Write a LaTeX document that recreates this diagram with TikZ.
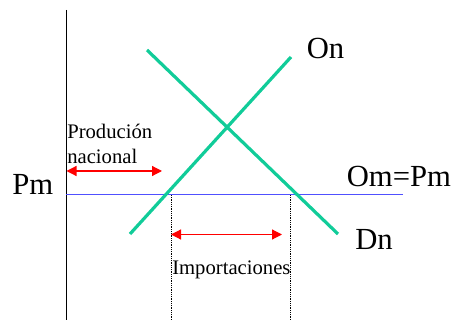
\documentclass[tikz,border=0pt]{standalone}
\usepackage{fontspec}
\setmainfont{Liberation Serif}
\usetikzlibrary{arrows.meta}
\definecolor{teal}{RGB}{17,204,153}
\definecolor{lineblue}{RGB}{80,80,255}
\definecolor{red}{RGB}{255,0,0}

\begin{document}
\begin{tikzpicture}[x=0.75pt,y=0.75pt,yscale=-1,xscale=1,
  curve/.style={color=teal,line width=2.4pt},
  bigtext/.style={anchor=base west,inner sep=0pt,font=\fontsize{23}{27}\selectfont},
  smalltext/.style={anchor=base west,inner sep=0pt,font=\fontsize{15.5}{18}\selectfont},
  span/.style={color=red,line width=0.9pt,{Triangle[length=7.5pt,width=7.5pt]}-{Triangle[length=7.5pt,width=7.5pt]}},
  guide/.style={densely dotted,line width=0.35pt}]
\useasboundingbox (0,0) rectangle (458,320);

%Axis
\coordinate (axtop) at (66,10);
\coordinate (axbot) at (66,320);
\draw [line width=0.6pt] (axtop) -- (axbot);

%World price line
\coordinate (pmleft) at (66,195);
\coordinate (pmright) at (403,195);
\draw [color=lineblue,line width=0.75pt] (pmleft) -- (pmright);

%Supply and demand
\coordinate (onlow) at (130,234);
\coordinate (onhigh) at (291,57);
\coordinate (dnhigh) at (147,50);
\coordinate (dnlow) at (338,234);
\draw [curve] (onlow) -- (onhigh);
\draw [curve] (dnhigh) -- (dnlow);

%Guides
\coordinate (qs) at (171,195);
\coordinate (qd) at (290,195);
\coordinate (qsbot) at (171,320);
\coordinate (qdbot) at (290,320);
\draw [guide] (qs) -- (qsbot);
\draw [guide] (qd) -- (qdbot);

%Spans
\coordinate (prodl) at (66.5,171);
\coordinate (prodr) at (162,171);
\draw [span] (prodl) -- (prodr);
\coordinate (impl) at (171,234.5);
\coordinate (impr) at (282,234.5);
\draw [span] (impl) -- (impr);

% Text Node
\node [bigtext] (pm) at (12,195) {Pm};
\node [bigtext] (on) at (306.5,59) {On};
\node [bigtext] (ompm) at (346.5,187) {Om=Pm};
\node [bigtext] (dn) at (355,250) {Dn};
\node [smalltext] (prod) at (67,139) {Produción};
\node [smalltext] (nac) at (67,164) {nacional};
\node [smalltext] (imp) at (172,275) {Importaciones};

\end{tikzpicture}
\end{document}
